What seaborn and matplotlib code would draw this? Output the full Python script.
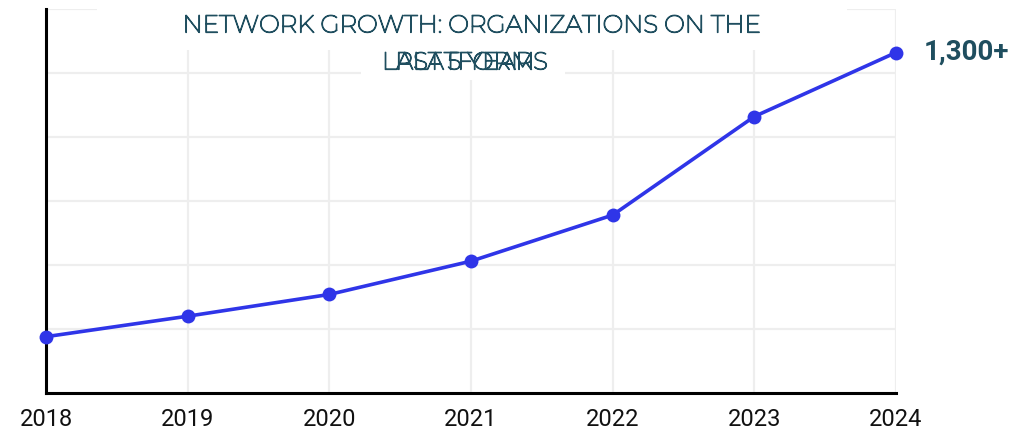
import numpy as np
import pandas as pd
import seaborn as sns
import matplotlib.pyplot as plt
import matplotlib.patheffects as pe
from matplotlib.patches import Rectangle

# ================= DATOS =================
years = [2018, 2019, 2020, 2021, 2022, 2023, 2024]
organizations = [220, 300, 385, 515, 695, 1080, 1330]
last_label = "1,300+"
title_line1 = "NETWORK GROWTH: ORGANIZATIONS ON THE"
title_line2a = "LAST 5 YEARS"
title_line2b = "PLATFORM"

LINE_COLOR = "#2f35e8"
TITLE_COLOR = "#1f4e5f"

df = pd.DataFrame({"year": years, "orgs": organizations})

sns.set_theme(style="white")
plt.rcParams["font.family"] = ["Roboto", "DejaVu Sans"]

fig = plt.figure(figsize=(10.36, 4.33), dpi=100)
ax = fig.add_axes([46 / 1036, 40 / 433, 850 / 1036, 384 / 433])

sns.lineplot(data=df, x="year", y="orgs", ax=ax, color=LINE_COLOR,
             linewidth=2.6, marker="o", markersize=10, markeredgewidth=0,
             clip_on=False, zorder=5)

ax.set_xlim(2018, 2024)
ax.set_ylim(0, 1500)
ax.set_xticks(years)
ax.set_xticklabels([str(y) for y in years], fontsize=17, color="#111111")
ax.set_yticks(np.arange(0, 1501, 250))
ax.set_yticklabels([])
ax.tick_params(axis="y", length=0)
ax.tick_params(axis="x", length=0, pad=11)
ax.set_xlabel("")
ax.set_ylabel("")

ax.grid(True, color="#eeeeee", linewidth=1.6, zorder=0)
ax.set_axisbelow(True)
for s in ["top", "right"]:
    ax.spines[s].set_visible(False)
for s in ["left", "bottom"]:
    ax.spines[s].set_color("black")
    ax.spines[s].set_linewidth(2.2)

# Etiqueta del último punto
ax.annotate(last_label, xy=(years[-1], organizations[-1]), xytext=(20, 0),
            textcoords="offset points", ha="left", va="center",
            fontsize=20, fontweight="bold", color=TITLE_COLOR,
            annotation_clip=False)

# Cajas blancas del título
fig.patches.append(Rectangle((97 / 1036, 1 - 50 / 433), 750 / 1036, 50 / 433,
                             transform=fig.transFigure, facecolor="white",
                             edgecolor="none", zorder=3))
fig.patches.append(Rectangle((361 / 1036, 1 - 80 / 433), 204 / 1036, 30 / 433,
                             transform=fig.transFigure, facecolor="white",
                             edgecolor="none", zorder=3))

tfont = ["Montserrat", "Open Sans", "DejaVu Sans"]
thick = [pe.withStroke(linewidth=0.9, foreground=TITLE_COLOR)]
for txt, yy, xx in [(title_line1, 26, 472), (title_line2a, 63, 465), (title_line2b, 63, 465)]:
    fig.text(xx / 1036, 1 - yy / 433, txt, ha="center", va="center",
             fontsize=17.7, color=TITLE_COLOR, family=tfont, zorder=4,
             path_effects=thick)

plt.savefig("out.png", dpi=100)
